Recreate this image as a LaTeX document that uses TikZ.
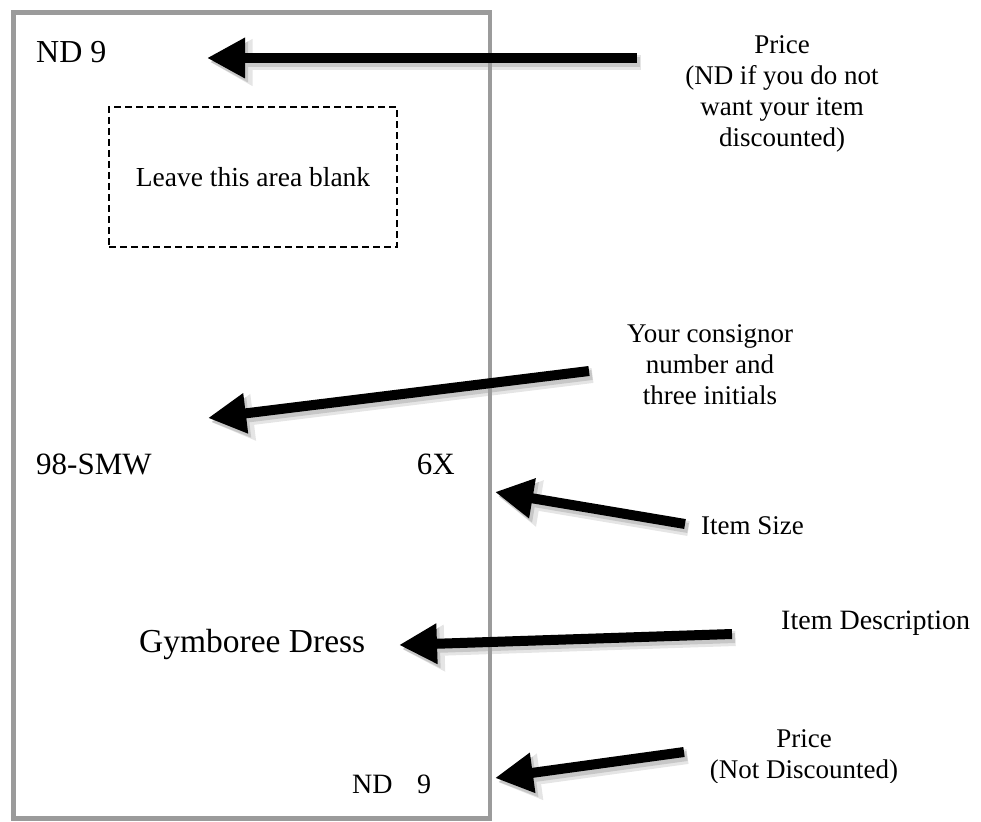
\documentclass[tikz,border=0pt]{standalone}
\usepackage{fontspec}
\setmainfont{Liberation Serif}
\usetikzlibrary{arrows.meta}
\definecolor{bordergray}{RGB}{155,155,155}
\tikzset{
  callout/.style={line width=10pt, black, -{Triangle[length=38pt,width=38pt]}},
  shadowsoft/.style={line width=15pt, black!10, -{Triangle[length=42pt,width=44pt]},
     transform canvas={shift={(3.5pt,-4.5pt)}}},
  shadowcore/.style={line width=10pt, black!22, -{Triangle[length=38pt,width=38pt]},
     transform canvas={shift={(3pt,-4pt)}}},
  tagtext/.style={inner sep=0pt, font=\fontsize{32}{38}\selectfont},
  note/.style={inner sep=0pt, align=center, font=\fontsize{27}{31}\selectfont},
  blankbox/.style={draw=black, line width=1.3pt, dash pattern=on 7pt off 4pt,
     minimum width=288pt, minimum height=140pt, inner sep=0pt,
     font=\fontsize{27.5}{31}\selectfont},
  tagborder/.style={draw=bordergray, line width=4.5pt}
}
\begin{document}
\begin{tikzpicture}[x=1pt,y=-1pt]
\useasboundingbox (0,0) rectangle (981,821);

% arrow end points
\coordinate (a1s) at (637,58);  \coordinate (a1t) at (207,58);
\coordinate (a2s) at (589,371); \coordinate (a2t) at (208,418);
\coordinate (a3s) at (685,524); \coordinate (a3t) at (495,492);
\coordinate (a4s) at (732,634); \coordinate (a4t) at (399,645);
\coordinate (a5s) at (684,752); \coordinate (a5t) at (495,778);

% shadows
\foreach \s/\t in {a1s/a1t,a2s/a2t,a3s/a3t,a4s/a4t,a5s/a5t}{
  \draw[shadowsoft] (\s) -- (\t);
}
\foreach \s/\t in {a1s/a1t,a2s/a2t,a3s/a3t,a4s/a4t,a5s/a5t}{
  \draw[shadowcore] (\s) -- (\t);
}

% tag outline
\draw[tagborder] (13.5,12.5) rectangle (490,818.5);

% blank area
\node[blankbox] (blank) at (253,177) {Leave this area blank};

% tag contents
\node[tagtext, anchor=base west] (ndtop) at (36,63) {ND 9};
\node[tagtext, anchor=base west, font=\fontsize{31}{37}\selectfont] (cons) at (36,474) {98-SMW};
\node[tagtext, anchor=base east, font=\fontsize{31}{37}\selectfont] (size) at (455,474) {6X};
\node[tagtext, anchor=base west, font=\fontsize{33.5}{40}\selectfont] (desc) at (139,652) {Gymboree Dress};
\node[tagtext, anchor=base west, font=\fontsize{28}{34}\selectfont] (ndbot) at (352,793) {ND\hspace{24.5pt}9};

% explanations
\node[note, anchor=north] (pricetop) at (782,35.6) {Price\\(ND if you do not\\want your item\\discounted)};
\node[note, anchor=north] (consnote) at (710,324.6) {Your consignor\\number and\\three initials};
\node[note, anchor=base west] (sizenote) at (701,534) {Item Size};
\node[note, anchor=base west, font=\fontsize{28}{31}\selectfont] (descnote) at (781,629) {Item Description};
\begin{scope}
  \clip (600,700) rectangle (981,782.5);
  \node[note, anchor=north] (pricebot) at (804,729.6) {Price\\(Not Discounted)};
\end{scope}

% arrows
\draw[callout] (a1s) -- (a1t);
\draw[callout] (a2s) -- (a2t);
\draw[callout] (a3s) -- (a3t);
\draw[callout] (a4s) -- (a4t);
\draw[callout] (a5s) -- (a5t);
\end{tikzpicture}
\end{document}
